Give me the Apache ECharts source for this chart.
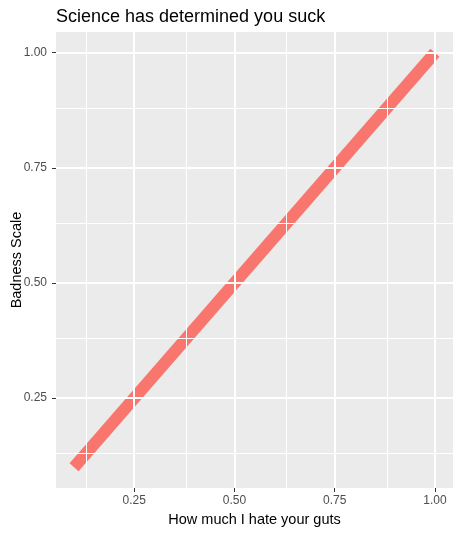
<!DOCTYPE html>
<html>
<head>
<meta charset="utf-8">
<script src="https://cdn.jsdelivr.net/npm/echarts@6/dist/echarts.min.js"></script>
<style>html,body{margin:0;padding:0;background:#fff}#c{width:465px;height:533px}</style>
</head>
<body>
<div id="c"></div>
<script>
var xValues = [0.1, 1.0];
var yValues = [0.1, 1.0];
var majorBreaks = [0.25, 0.5, 0.75, 1.0];
var minorBreaks = [0.125, 0.375, 0.625, 0.875];
var tickLabels = ['0.25', '0.50', '0.75', '1.00'];
var axisMin = 0.055, axisMax = 1.045;

var FONT = "'Liberation Sans', Arial, sans-serif";
var chart = echarts.init(document.getElementById('c'), null, {renderer: 'canvas'});

function fmt(v) { var i = majorBreaks.indexOf(Math.round(v * 1000) / 1000); return i >= 0 ? tickLabels[i] : ''; }

function gridLines(axisKey, vals, w) {
  return vals.map(function (v) { var o = {}; o[axisKey] = v; o.lineStyle = {color: '#ffffff', width: w, type: 'solid'}; return o; });
}

var axisCommon = {
  type: 'value', min: axisMin, max: axisMax,
  axisLine: {show: false},
  splitLine: {show: false},
  axisTick: {show: true, customValues: majorBreaks, length: 4, lineStyle: {color: '#333333', width: 1}},
  axisLabel: {customValues: majorBreaks, formatter: fmt, color: '#4D4D4D', fontSize: 12, fontFamily: FONT},
  nameLocation: 'middle',
  nameMoveOverlap: false,
  nameTextStyle: {color: '#000000', fontSize: 14.5, fontFamily: FONT}
};

chart.setOption({
  animation: false,
  title: {text: 'Science has determined you suck', left: 51, top: 3,
    textStyle: {fontSize: 18, fontWeight: 'normal', color: '#000', fontFamily: FONT}},
  grid: {left: 56, right: 12, top: 32, bottom: 45, show: true, backgroundColor: '#EBEBEB', borderWidth: 0,
    containLabel: false, outerBoundsMode: 'none'},
  xAxis: Object.assign({}, axisCommon, {name: 'How much I hate your guts', nameGap: 24,
    axisLabel: Object.assign({}, axisCommon.axisLabel, {margin: 7})}),
  yAxis: Object.assign({}, axisCommon, {name: 'Badness Scale', nameGap: 32,
    axisLabel: Object.assign({}, axisCommon.axisLabel, {margin: 9})}),
  series: [
    {
      type: 'line', data: [], z: 1, silent: true,
      markLine: {
        silent: true, symbol: ['none', 'none'], label: {show: false}, animation: false,
        data: gridLines('xAxis', minorBreaks, 1)
          .concat(gridLines('yAxis', minorBreaks, 1))
          .concat(gridLines('xAxis', majorBreaks, 2))
          .concat(gridLines('yAxis', majorBreaks, 2))
      }
    },
    {
      type: 'line', z: 3, symbol: 'none',
      data: xValues.map(function (x, i) { return [x, yValues[i]]; }),
      lineStyle: {color: '#F8766D', width: 12, cap: 'butt'}
    }
  ]
});
</script>
</body>
</html>
